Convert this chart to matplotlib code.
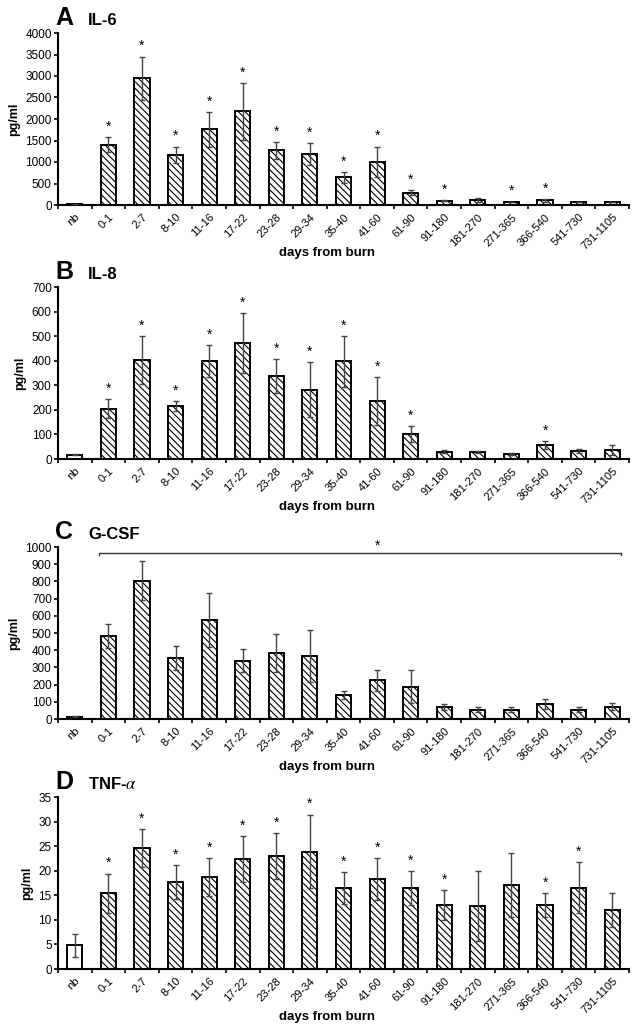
import numpy as np
import matplotlib
matplotlib.use("Agg")
import matplotlib.pyplot as plt
from matplotlib.ticker import MultipleLocator

plt.rcParams['font.family'] = ['Liberation Sans', 'DejaVu Sans']
plt.rcParams['mathtext.fontset'] = 'stix'
plt.rcParams['hatch.linewidth'] = 0.8
plt.rcParams['hatch.color'] = 'black'

days = ["nb", "0-1", "2-7", "8-10", "11-16", "17-22", "23-28", "29-34", "35-40",
        "41-60", "61-90", "91-180", "181-270", "271-365", "366-540", "541-730", "731-1105"]

il6 = [20, 1400, 2950, 1170, 1760, 2180, 1270, 1190, 640, 1010, 290, 100, 120, 70, 110, 70, 70]
il6_err = [5, 170, 500, 190, 400, 660, 190, 250, 120, 350, 60, 15, 40, 10, 30, 10, 10]
il6_star = [0, 1, 1, 1, 1, 1, 1, 1, 1, 1, 1, 1, 0, 1, 1, 0, 0]

il8 = [18, 205, 402, 217, 398, 472, 338, 282, 397, 235, 102, 30, 28, 20, 57, 33, 37]
il8_err = [3, 38, 98, 20, 65, 122, 70, 112, 102, 98, 33, 5, 3, 4, 17, 9, 20]
il8_star = [0, 1, 1, 1, 1, 1, 1, 1, 1, 1, 1, 0, 0, 0, 1, 0, 0]

gcsf = [12, 485, 805, 355, 575, 340, 385, 367, 140, 225, 187, 68, 55, 55, 87, 55, 72]
gcsf_err = [3, 70, 115, 70, 155, 65, 110, 150, 25, 62, 95, 17, 13, 17, 27, 12, 22]

tnf = [4.8, 15.4, 24.6, 17.7, 18.7, 22.4, 23.0, 23.9, 16.5, 18.3, 16.5, 13.0, 12.8, 17.1, 13.0, 16.5, 12.0]
tnf_err = [2.3, 4.0, 3.9, 3.4, 3.9, 4.6, 4.6, 7.5, 3.2, 4.2, 3.4, 3.0, 7.1, 6.5, 2.5, 5.2, 3.5]
tnf_star = [0, 1, 1, 1, 1, 1, 1, 1, 1, 1, 1, 1, 0, 0, 1, 1, 0]

W, H = 636, 1031
fig = plt.figure(figsize=(W / 100, H / 100), dpi=100)

panels = [
    ("A", "IL-6", il6, il6_err, il6_star, 4000, 500, 33),
    ("B", "IL-8", il8, il8_err, il8_star, 700, 100, 287),
    ("C", "G-CSF", gcsf, gcsf_err, None, 1000, 100, 547),
    ("D", "TNF-$\\alpha$", tnf, tnf_err, tnf_star, 35, 5, 797),
]

x = np.arange(len(days))
for letter, name, vals, errs, stars, ymax, step, top in panels:
    ax = fig.add_axes([58 / W, 1 - (top + 172) / H, 571 / W, 172 / H])
    for i in range(len(days)):
        ax.bar(x[i], vals[i], width=0.45, color='white', edgecolor='black', linewidth=1.4,
               hatch=None if i == 0 else '\\\\\\\\\\', zorder=2)
    ax.errorbar(x, vals, yerr=errs, fmt='none', ecolor='#444444', elinewidth=1.0,
                capsize=2.5, capthick=1.0, zorder=3)
    if stars is not None:
        for i in range(len(days)):
            if stars[i]:
                ax.text(x[i], vals[i] + errs[i] + ymax * 0.02, '*', ha='center', va='bottom',
                        fontsize=10, zorder=4)
    else:
        # bracket over all burn groups
        yb = ymax * 0.965
        ax.plot([x[1] - 0.27, x[1] - 0.27, x[-1] + 0.27, x[-1] + 0.27],
                [yb - ymax * 0.01, yb, yb, yb - ymax * 0.01], color='#333333', lw=1.0,
                clip_on=False, zorder=4)
        ax.text(x[9], yb + ymax * 0.003, '*', ha='center', va='bottom', fontsize=10,
                clip_on=False)

    ax.set_xlim(-0.5, len(days) - 0.5)
    ax.set_ylim(0, ymax)
    ax.yaxis.set_major_locator(MultipleLocator(step))
    ax.set_xticks(x)
    ax.set_xticklabels(days, rotation=45, ha='right', va='top', rotation_mode='anchor',
                       fontsize=8)
    ax.set_xticks(np.arange(-0.5, len(days), 1.0), minor=True)
    ax.tick_params(axis='x', which='major', length=0, pad=5)
    ax.tick_params(axis='x', which='minor', length=3, width=1.2, direction='out')
    ax.tick_params(axis='y', length=3, width=1.2, direction='out', labelsize=8.5, pad=1.5)
    for s in ['top', 'right']:
        ax.spines[s].set_visible(False)
    for s in ['left', 'bottom']:
        ax.spines[s].set_linewidth(1.5)
    ax.set_ylabel('pg/ml', fontsize=9, fontweight='bold', labelpad=4)

    fig.text(55 / W, 1 - 25 / H - (top - 33) / H, letter, fontsize=18, fontweight='bold',
             ha='left', va='baseline')
    fig.text(88 / W, 1 - 25 / H - (top - 33) / H, name, fontsize=12, fontweight='bold',
             ha='left', va='baseline')
    fig.text(327 / W, 1 - (top + 172 + 48) / H, 'days from burn', fontsize=9.5,
             fontweight='bold', ha='center', va='center')

fig.savefig('out.png', dpi=100)
